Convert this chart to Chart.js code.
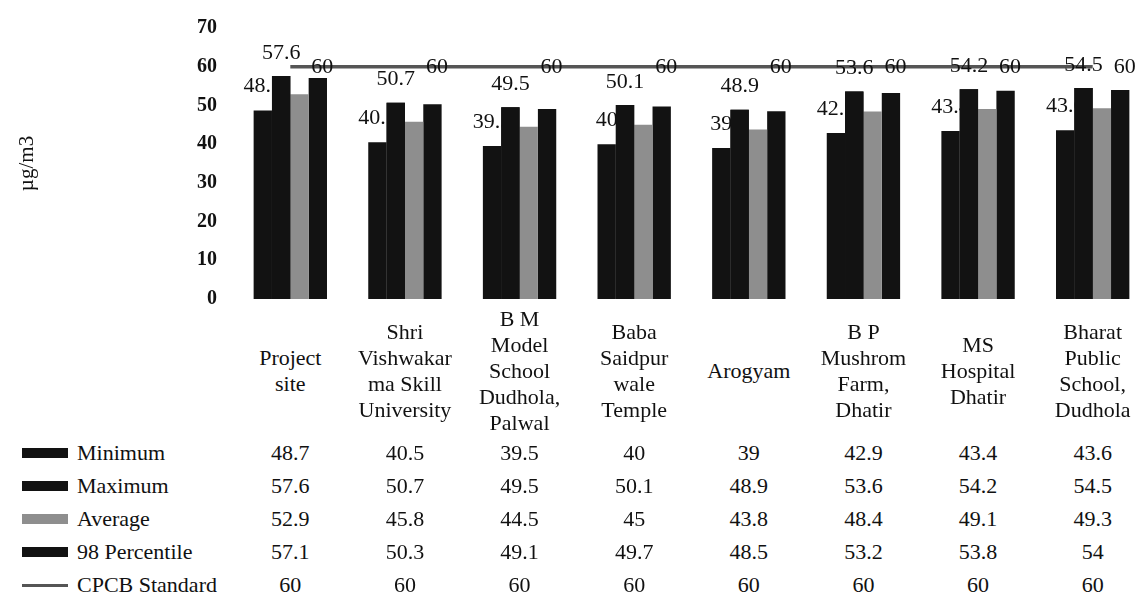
<!DOCTYPE html>
<html>
<head>
<meta charset="utf-8">
<script src="https://cdn.jsdelivr.net/npm/chart.js@4.4.0/dist/chart.umd.min.js"></script>
<style>
    body { margin: 0; background: #fff; overflow: hidden; }
    #marco { position: relative; width: 1150px; height: 599px; }
    #grafico { position: absolute; left: 0; top: 0; }
    .txt {
        position: absolute;
        font-family: "Liberation Serif", "DejaVu Serif", serif;
        font-size: 22px;
        color: #111;
        white-space: nowrap;
        line-height: 26px;
    }
    .centro { transform: translate(-50%, -50%); text-align: center; }
    .muestra { position: absolute; }
</style>
</head>
<body>
<div id="marco">
    <canvas id="grafico" width="1150" height="327"></canvas>
    <div id="tabla"></div>
</div>
<script>
// categorias (con saltos de linea como en la tabla)
var categorias = [
    ["Project", "site"],
    ["Shri", "Vishwakar", "ma Skill", "University"],
    ["B M", "Model", "School", "Dudhola,", "Palwal"],
    ["Baba", "Saidpur", "wale", "Temple"],
    ["Arogyam"],
    ["B P", "Mushrom", "Farm,", "Dhatir"],
    ["MS", "Hospital", "Dhatir"],
    ["Bharat", "Public", "School,", "Dudhola"]
];
var minimo = [48.7, 40.5, 39.5, 40, 39, 42.9, 43.4, 43.6];
var maximo = [57.6, 50.7, 49.5, 50.1, 48.9, 53.6, 54.2, 54.5];
var promedio = [52.9, 45.8, 44.5, 45, 43.8, 48.4, 49.1, 49.3];
var percentil98 = [57.1, 50.3, 49.1, 49.7, 48.5, 53.2, 53.8, 54];
var cpcb = [60, 60, 60, 60, 60, 60, 60, 60];
var nombres = ["Minimum", "Maximum", "Average", "98 Percentile", "CPCB Standard"];
var ticksY = [0, 10, 20, 30, 40, 50, 60, 70];

var negro = "#121212", gris = "#8e8e8e", linea = "#555555";
var fuente = '"Liberation Serif", "DejaVu Serif", serif';

// etiquetas de datos: las del minimo quedan tapadas por la barra del maximo
var etiquetas = {
    id: "etiquetas",
    afterDatasetsDraw: function (chart) {
        var ctx = chart.ctx;
        var mMin = chart.getDatasetMeta(0);
        var mMax = chart.getDatasetMeta(1);
        var mLinea = chart.getDatasetMeta(4);
        ctx.save();
        ctx.font = "22px " + fuente;
        ctx.fillStyle = "#111";
        ctx.textAlign = "center";
        ctx.textBaseline = "middle";
        mMin.data.forEach(function (b, i) {
            ctx.fillText(String(minimo[i]), b.x, b.y - 24);
        });
        mMax.data.forEach(function (b) { b.draw(ctx); });
        mMax.data.forEach(function (b, i) {
            ctx.fillText(String(maximo[i]), b.x, b.y - 23);
        });
        ctx.textAlign = "left";
        mLinea.data.forEach(function (p, i) {
            ctx.fillText(String(cpcb[i]), p.x + 21, p.y + 1);
        });
        ctx.restore();
    }
};

var tablaHecha = false;
var tabla = {
    id: "tabla",
    afterRender: function (chart) {
        if (tablaHecha) return;
        tablaHecha = true;
        var cont = document.getElementById("tabla");
        var ejeX = chart.scales.x;
        var filas = [minimo, maximo, promedio, percentil98, cpcb];
        var filaY = [453, 486, 519, 552, 585];

        categorias.forEach(function (lineas, i) {
            var d = document.createElement("div");
            d.className = "txt centro";
            d.style.left = ejeX.getPixelForValue(i) + "px";
            d.style.top = "371px";
            d.innerHTML = lineas.join("<br>");
            cont.appendChild(d);
        });

        filas.forEach(function (valores, f) {
            // muestra de la leyenda
            var m = document.createElement("div");
            m.className = "muestra";
            m.style.left = "22px";
            m.style.width = "46px";
            if (f === 4) {
                m.style.top = (filaY[f] - 1) + "px";
                m.style.height = "3px";
                m.style.background = linea;
            } else {
                m.style.top = (filaY[f] - 5) + "px";
                m.style.height = "10px";
                m.style.background = f === 2 ? gris : negro;
            }
            cont.appendChild(m);

            var n = document.createElement("div");
            n.className = "txt";
            n.style.left = "77px";
            n.style.top = (filaY[f] - 13) + "px";
            n.textContent = nombres[f];
            cont.appendChild(n);

            valores.forEach(function (v, i) {
                var c = document.createElement("div");
                c.className = "txt centro";
                c.style.left = ejeX.getPixelForValue(i) + "px";
                c.style.top = filaY[f] + "px";
                c.textContent = String(v);
                cont.appendChild(c);
            });
        });
    }
};

var etiquetasX = categorias.map(function (l) { return l.join(" "); });

new Chart(document.getElementById("grafico"), {
    type: "bar",
    data: {
        labels: etiquetasX,
        datasets: [
            { label: nombres[0], data: minimo, backgroundColor: negro },
            { label: nombres[1], data: maximo, backgroundColor: negro },
            { label: nombres[2], data: promedio, backgroundColor: gris },
            { label: nombres[3], data: percentil98, backgroundColor: negro },
            {
                label: nombres[4], data: cpcb, type: "line",
                borderColor: linea, borderWidth: 3.5, pointRadius: 0, fill: false
            }
        ]
    },
    options: {
        responsive: false,
        animation: false,
        devicePixelRatio: 1,
        layout: { padding: { top: 19, bottom: 14, left: 11, right: 0 } },
        datasets: { bar: { categoryPercentage: 0.64, barPercentage: 1.0 } },
        plugins: { legend: { display: false }, tooltip: { enabled: false } },
        scales: {
            x: { display: false },
            y: {
                min: 0, max: 70,
                afterFit: function (s) { s.width = 222; },
                afterBuildTicks: function (s) {
                    s.ticks = ticksY.map(function (v) { return { value: v }; });
                },
                grid: { display: false, drawTicks: false },
                border: { display: false },
                ticks: {
                    padding: 16,
                    color: "#111",
                    font: { family: fuente, size: 20, weight: "bold" }
                },
                title: {
                    display: true,
                    text: "µg/m3",
                    color: "#111",
                    font: { family: fuente, size: 21 }
                }
            }
        }
    },
    plugins: [etiquetas, tabla]
});
</script>
</body>
</html>
